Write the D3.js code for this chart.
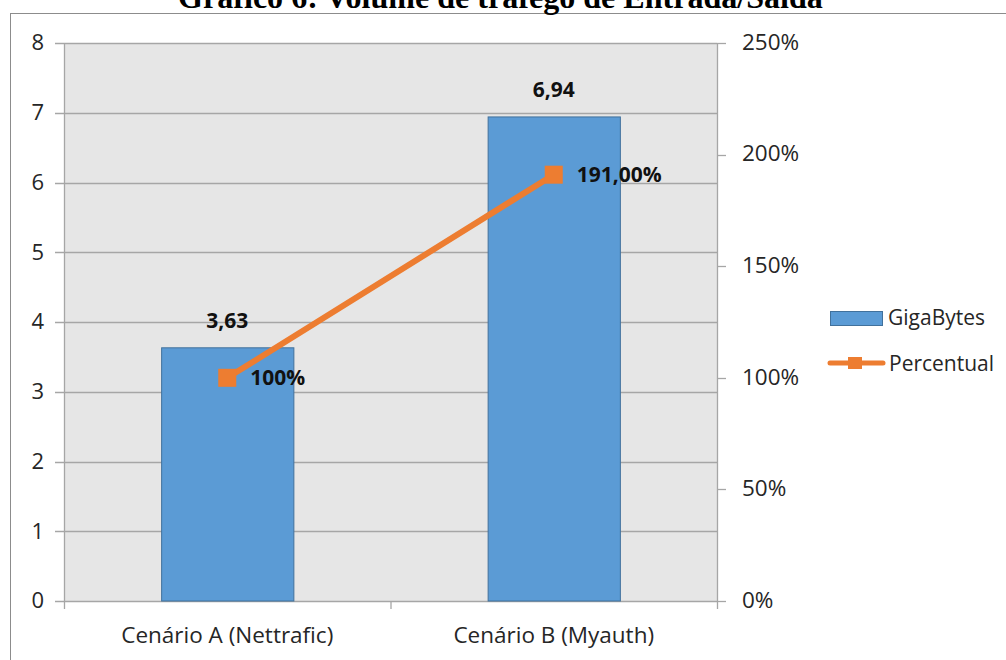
<!DOCTYPE html>
<html><head><meta charset="utf-8">
<script src="https://cdn.jsdelivr.net/npm/d3@7"></script>
<style>body{margin:0;background:#fff;overflow:hidden}svg{display:block}</style>
</head><body>
<svg id="c" width="1006" height="660"></svg>
<script>
const titleText = "Gráfico 6: Volume de tráfego de Entrada/Saída";
const categories = ["Cenário A (Nettrafic)", "Cenário B (Myauth)"];
const gigaBytes = [3.63, 6.94];
const gigaLabels = ["3,63", "6,94"];
const percentual = [1.00, 1.91];
const percentLabels = ["100%", "191,00%"];
const leftTicks = [0, 1, 2, 3, 4, 5, 6, 7, 8];
const rightTicks = [0, 0.5, 1, 1.5, 2, 2.5];
const seriesNames = ["GigaBytes", "Percentual"];

const svg = d3.select("#c");
const font = "'Open Sans', sans-serif";
const grid = "#a6a6a6";
const blue = "#5b9bd5", blueEdge = "#41719c", orange = "#ed7d31";

const L = 64, R = 717, T = 43, B = 601;
const x = d3.scaleBand().domain(categories).range([L, R]).padding(0);
const yL = d3.scaleLinear().domain([0, 8]).range([B, T]);
const yR = d3.scaleLinear().domain([0, 2.5]).range([B, T]);

// outer border
svg.append("rect").attr("x", 10.5).attr("y", 13.5).attr("width", 1100).attr("height", 700)
  .attr("fill", "#fff").attr("stroke", "#8c8c8c").attr("stroke-width", 1);

// title (clipped at top)
const title = svg.append("text").attr("x", 500.5).attr("y", 8).attr("text-anchor", "middle")
  .attr("font-family", "'Liberation Serif', 'Times New Roman', serif").attr("font-weight", "bold")
  .attr("font-size", 26).attr("fill", "#000").text(titleText);
const tl = title.node().getComputedTextLength();
title.attr("font-size", 26 * 645 / tl);

// plot area
svg.append("rect").attr("x", L).attr("y", T).attr("width", R - L).attr("height", B - T).attr("fill", "#e6e6e6");

// gridlines + left ticks
svg.append("g").selectAll("line").data(leftTicks).join("line")
  .attr("x1", 55).attr("x2", R).attr("y1", d => Math.round(yL(d)) + 0.5).attr("y2", d => Math.round(yL(d)) + 0.5)
  .attr("stroke", grid).attr("stroke-width", 1.3);
// plot verticals
[L, R].forEach(v => svg.append("line").attr("x1", v + 0.5).attr("x2", v + 0.5).attr("y1", T).attr("y2", B + 8)
  .attr("stroke", grid).attr("stroke-width", 1.3));
// right ticks
svg.append("g").selectAll("line").data(rightTicks).join("line")
  .attr("x1", R).attr("x2", 726).attr("y1", d => Math.round(yR(d)) + 0.5).attr("y2", d => Math.round(yR(d)) + 0.5)
  .attr("stroke", grid).attr("stroke-width", 1.3);
// category ticks
svg.append("line").attr("x1", x.step() + L + 0.5).attr("x2", x.step() + L + 0.5).attr("y1", B).attr("y2", B + 8)
  .attr("stroke", grid).attr("stroke-width", 1.3);

// left tick labels
svg.append("g").selectAll("text").data(leftTicks).join("text")
  .attr("x", 44).attr("y", d => yL(d)).attr("dy", "0.33em").attr("text-anchor", "end")
  .attr("font-family", font).attr("font-size", 22).attr("fill", "#262626").text(d => d);
// right tick labels
svg.append("g").selectAll("text").data(rightTicks).join("text")
  .attr("x", 742).attr("y", d => yR(d)).attr("dy", "0.3em").attr("text-anchor", "start")
  .attr("font-family", font).attr("font-size", 22.5).attr("fill", "#262626").text(d => Math.round(d * 100) + "%");
// category labels
svg.append("g").selectAll("text").data(categories).join("text")
  .attr("x", d => x(d) + x.bandwidth() / 2).attr("y", 643).attr("text-anchor", "middle")
  .attr("font-family", font).attr("font-size", 22.5).attr("fill", "#262626").text(d => d);

// bars
const bw = x.bandwidth() * 0.405;
svg.append("g").selectAll("rect").data(gigaBytes).join("rect")
  .attr("x", (d, i) => x(categories[i]) + x.bandwidth() / 2 - bw / 2 + 0.5)
  .attr("y", d => yL(d)).attr("width", bw).attr("height", d => B - yL(d))
  .attr("fill", blue).attr("stroke", blueEdge).attr("stroke-width", 1);

// bar labels
svg.append("g").selectAll("text").data(gigaBytes).join("text")
  .attr("x", (d, i) => x(categories[i]) + x.bandwidth() / 2).attr("y", d => yL(d) - 20)
  .attr("text-anchor", "middle").attr("font-family", font).attr("font-weight", "bold")
  .attr("font-size", 21).attr("fill", "#111").text((d, i) => gigaLabels[i]);

// line
const pts = percentual.map((d, i) => [x(categories[i]) + x.bandwidth() / 2, yR(d)]);
svg.append("path").attr("d", d3.line()(pts)).attr("fill", "none").attr("stroke", orange)
  .attr("stroke-width", 6).attr("stroke-linecap", "round");
svg.append("g").selectAll("rect").data(pts).join("rect")
  .attr("x", d => d[0] - 9).attr("y", d => d[1] - 9).attr("width", 18).attr("height", 18).attr("fill", orange);
svg.append("g").selectAll("text").data(pts).join("text")
  .attr("x", d => d[0] + 23).attr("y", d => d[1]).attr("dy", "0.36em")
  .attr("font-family", font).attr("font-weight", "bold").attr("font-size", 21).attr("fill", "#111")
  .text((d, i) => percentLabels[i]);

// legend
svg.append("rect").attr("x", 830.5).attr("y", 311.5).attr("width", 52).attr("height", 14)
  .attr("fill", blue).attr("stroke", blueEdge);
svg.append("text").attr("x", 888).attr("y", 325).attr("font-family", font).attr("font-size", 21)
  .attr("fill", "#262626").text(seriesNames[0]);
svg.append("line").attr("x1", 830).attr("x2", 883).attr("y1", 363).attr("y2", 363)
  .attr("stroke", orange).attr("stroke-width", 5).attr("stroke-linecap", "round");
svg.append("rect").attr("x", 848).attr("y", 357).attr("width", 14).attr("height", 12).attr("fill", orange);
svg.append("text").attr("x", 889).attr("y", 371).attr("font-family", font).attr("font-size", 21)
  .attr("fill", "#262626").text(seriesNames[1]);
</script>
</body></html>
